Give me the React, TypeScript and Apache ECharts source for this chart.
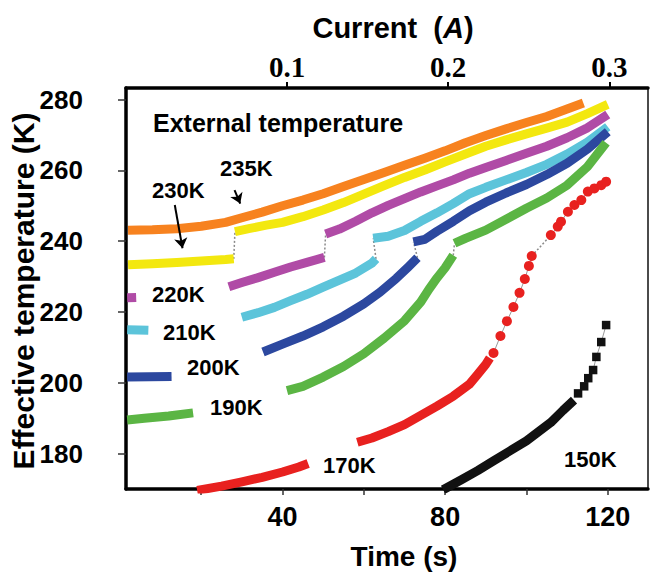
import React, { useEffect, useRef } from 'react';
import * as echarts from 'echarts';

// axis ticks / labels
const timeTicks = [20, 40, 60, 80, 100, 120];
const timeLabels = [40, 80, 120];
const tempTicks = [180, 200, 220, 240, 260, 280];
const currentTicks = [0.1, 0.2, 0.3];

// [time (s), effective temperature (K)] segments
const orange235 = [
  [[2, 243.1], [8, 243.2], [14, 243.5], [20, 244.2], [26, 245.3], [30, 246.6], [35, 248.2], [40, 250.0], [45, 251.6], [50, 253.4], [55, 255.4], [60, 257.4], [65, 259.4], [70, 261.4], [75, 263.4], [80, 265.5], [85, 267.8], [90, 269.8], [95, 271.7], [100, 273.5], [105, 275.2], [110, 277.3], [114, 279.0]],
];
const yellow230 = [
  [[2, 233.3], [8, 233.6], [14, 234.0], [20, 234.4], [26, 234.8], [28, 235.0]],
  [[28.3, 242.7], [32, 243.6], [36, 244.5], [40, 245.3], [45, 246.9], [50, 248.8], [55, 250.9], [60, 253.3], [65, 255.7], [70, 258.0], [75, 260.1], [80, 262.4], [85, 264.6], [90, 266.8], [95, 268.6], [100, 270.3], [105, 271.9], [110, 273.6], [115, 276.0], [120, 278.6]],
];
const magenta220 = [
  [[1.8, 224.0], [4.0, 224.1]],
  [[26.8, 227.1], [30, 228.3], [34, 229.7], [38, 231.2], [42, 232.7], [46, 234.0], [50.3, 235.4]],
  [[50.6, 242.0], [54, 243.4], [58, 245.6], [62, 248.0], [66, 250.1], [70, 252.0], [74, 253.9], [78, 255.6], [82, 257.3], [86, 259.2], [90, 260.8], [95, 262.8], [100, 264.8], [105, 266.8], [110, 269.2], [115, 272.0], [120, 275.8]],
];
const cyan210 = [
  [[1.8, 215.0], [7.0, 214.8]],
  [[30, 218.5], [34, 219.8], [38, 221.3], [42, 223.2], [46, 225.0], [50, 227.0], [54, 229.0], [58, 231.0], [62, 233.8], [63, 235.0]],
  [[62.3, 240.8], [66, 241.4], [70, 243.0], [74, 245.6], [78, 248.0], [82, 250.6], [86, 253.4], [90, 255.2], [95, 257.3], [100, 259.4], [105, 261.7], [110, 264.6], [115, 268.0], [120, 272.3]],
];
const blue200 = [
  [[1.8, 201.6], [12.7, 201.8]],
  [[35.2, 208.7], [40, 210.9], [45, 213.2], [50, 215.8], [55, 218.8], [60, 222.3], [64, 225.6], [68, 229.5], [71, 232.8], [73.2, 235.3]],
  [[72.2, 239.8], [75, 240.5], [78, 242.8], [82, 245.6], [86, 248.6], [90, 251.0], [95, 253.6], [100, 256.0], [105, 258.8], [110, 262.0], [115, 266.0], [120, 270.9]],
];
const green190 = [
  [[1.8, 189.5], [6, 190.0], [12, 190.6], [18, 191.5]],
  [[41.1, 197.8], [45, 199.0], [50, 201.6], [55, 204.6], [60, 208.2], [65, 212.6], [70, 217.5], [74, 222.8], [76, 226.4], [78, 229.6], [80, 232.5], [82, 236.0]],
  [[82.3, 239.4], [85, 240.8], [90, 243.1], [95, 246.2], [100, 249.3], [105, 252.2], [110, 255.8], [115, 261.0], [119.6, 267.8]],
];
const red170Band = [
  [[19, 169.6], [25, 170.8], [30, 172.0], [35, 173.3], [40, 174.8], [44, 176.2], [46.3, 177.2]],
  [[58.4, 183.2], [62, 184.4], [66, 186.2], [70, 188.2], [74, 190.8], [78, 193.4], [82, 196.2], [86, 199.6], [88, 202.4], [90, 205.2], [91, 207.0]],
];
const red170Dots = [
  [[91.9, 208.4], [93.6, 213.2], [95.2, 217.4], [96.8, 221.4], [98.3, 225.4], [99.6, 229.3], [100.6, 233.0], [101.3, 235.8]],
  [[106.0, 241.7], [107.7, 244.1], [108.5, 245.5], [110.2, 248.3], [111.8, 250.2], [113.5, 251.6], [115.1, 254.0], [116.7, 254.9], [118.4, 255.8], [119.6, 256.8]],
];
const black150Band = [
  [[79.5, 169.8], [84, 172.6], [88, 175.2], [92, 178.0], [96, 180.8], [100, 183.6], [103, 186.2], [106, 188.8], [109, 192.2], [111.7, 195.1]],
];
const black150Dots = [
  [[112.7, 197.0], [114.2, 199.0], [115.2, 201.3], [116.4, 203.6], [117.2, 207.3], [118.4, 211.5], [119.6, 216.3]],
];

// segment indexes joined to the next segment by a thin grey dashed link
const curves = [
  { name: '235K', color: '#F7821F', segs: orange235, links: [] as number[] },
  { name: '230K', color: '#F3E80F', segs: yellow230, links: [0] },
  { name: '220K', color: '#B04BA6', segs: magenta220, links: [1] },
  { name: '210K', color: '#5CC4DA', segs: cyan210, links: [1] },
  { name: '200K', color: '#2C489F', segs: blue200, links: [1] },
  { name: '190K', color: '#5BB544', segs: green190, links: [1] },
  { name: '170K', color: '#E8211F', segs: red170Band, links: [] as number[] },
  { name: '150K', color: '#111111', segs: black150Band, links: [] as number[] },
];

const labelTexts = [
  { text: '235K', x: 220, y: 168 },
  { text: '230K', x: 152, y: 190 },
  { text: '220K', x: 152, y: 294 },
  { text: '210K', x: 163, y: 332 },
  { text: '200K', x: 187, y: 367 },
  { text: '190K', x: 210, y: 407 },
  { text: '170K', x: 323, y: 465 },
  { text: '150K', x: 564, y: 459 },
];

const SANS = '"Liberation Sans", Arial, Helvetica, sans-serif';
const SERIF = '"Liberation Serif", "Times New Roman", serif';

export default function App() {
  const ref = useRef<HTMLDivElement>(null);
  useEffect(() => {
    if (!ref.current) return;
    const chart = echarts.init(ref.current, undefined, { renderer: 'svg' });
    const series: any[] = [];
    curves.forEach((c) => {
      c.segs.forEach((seg) => {
        series.push({
          type: 'line', name: c.name, data: seg, symbol: 'none', xAxisIndex: 0, yAxisIndex: 0,
          lineStyle: { color: c.color, width: 9, cap: 'butt', join: 'round' }, z: 3,
        });
      });
      c.links.forEach((i) => {
        const a = c.segs[i][c.segs[i].length - 1];
        const b = c.segs[i + 1][0];
        series.push({
          type: 'line', data: [a, b], symbol: 'none',
          lineStyle: { color: '#8a8a8a', width: 1.5, type: [2, 2] }, z: 2,
        });
      });
    });
    // red round markers joined by a thin grey line
    red170Dots.forEach((seg) => {
      series.push({
        type: 'line', data: seg, symbol: 'circle', symbolSize: 10, showSymbol: true,
        itemStyle: { color: '#E8211F' }, lineStyle: { color: '#999', width: 1 }, z: 4,
      });
    });
    series.push({
      type: 'line', data: [red170Dots[0][red170Dots[0].length - 1], red170Dots[1][0]], symbol: 'none',
      lineStyle: { color: '#8a8a8a', width: 1.5, type: [2, 2] }, z: 2,
    });
    black150Dots.forEach((seg) => {
      series.push({
        type: 'line', data: seg, symbol: 'rect', symbolSize: 8.5, showSymbol: true,
        itemStyle: { color: '#111' }, lineStyle: { color: '#999', width: 1 }, z: 4,
      });
    });
    // annotation arrows
    series.push({
      type: 'line', data: [], symbol: 'none',
      markLine: {
        silent: true, symbol: ['none', 'arrow'], symbolSize: 10, animation: false,
        label: { show: false },
        lineStyle: { color: '#000', width: 2, type: 'solid' },
        data: [
          [{ coord: [13.5, 250.2] }, { coord: [15.4, 238.0] }],
          [{ coord: [28.2, 254.4] }, { coord: [29.6, 250.6] }],
        ],
      },
    });

    chart.setOption({
      animation: false,
      grid: { left: 126, right: 3, top: 88, bottom: 84, show: true, borderColor: '#111', borderWidth: 1.5 },
      xAxis: [
        {
          type: 'value', position: 'bottom', min: 1.5, max: 129.9,
          axisLine: { show: true, lineStyle: { color: '#000', width: 3.5 } },
          axisTick: { show: true, customValues: timeTicks, length: 6, lineStyle: { color: '#333', width: 1.5 } },
          axisLabel: { customValues: timeLabels, margin: 14, color: '#000', fontSize: 27, fontWeight: 'bold', fontFamily: SANS },
          splitLine: { show: false },
        },
        {
          type: 'value', position: 'top', min: 0, max: 0.324,
          axisLine: { show: true, lineStyle: { color: '#000', width: 3.5 } },
          axisTick: { show: true, customValues: currentTicks, length: 6, lineStyle: { color: '#000', width: 2 } },
          axisLabel: { customValues: currentTicks, margin: 7, color: '#000', fontSize: 29, fontWeight: 'bold', fontFamily: SERIF, formatter: (v: number) => v.toFixed(1) },
          splitLine: { show: false },
        },
      ],
      yAxis: {
        type: 'value', min: 170, max: 283.25,
        axisLine: { show: true, lineStyle: { color: '#000', width: 3.5 } },
        axisTick: { show: true, customValues: tempTicks, length: 8, lineStyle: { color: '#333', width: 1.5 } },
        axisLabel: { customValues: tempTicks, margin: 43, color: '#000', fontSize: 26, fontWeight: 'bold', fontFamily: SANS },
        splitLine: { show: false },
      },
      graphic: [
        { type: 'text', x: 393, y: 28, style: { text: '{n|Current  (}{i|A}{n|)}', align: 'center', verticalAlign: 'middle', rich: { n: { fontSize: 29, fontWeight: 'bold', fontFamily: SANS, fill: '#000' }, i: { fontSize: 29, fontWeight: 'bold', fontStyle: 'italic', fontFamily: SANS, fill: '#000' } } } },
        { type: 'text', x: 404, y: 556, style: { text: 'Time (s)', align: 'center', verticalAlign: 'middle', fontSize: 28, fontWeight: 'bold', fontFamily: SANS, fill: '#000' } },
        { type: 'text', x: 23, y: 291, rotation: Math.PI / 2, style: { text: 'Effective temperature (K)', align: 'center', verticalAlign: 'middle', fontSize: 30, fontWeight: 'bold', fontFamily: SANS, fill: '#000' } },
        { type: 'text', x: 153, y: 123, style: { text: 'External temperature', align: 'left', verticalAlign: 'middle', fontSize: 25, fontWeight: 'bold', fontFamily: SANS, fill: '#000' } },
        ...labelTexts.map((l) => ({ type: 'text', x: l.x, y: l.y, z: 10, style: { text: l.text, align: 'left', verticalAlign: 'middle', fontSize: 22, fontWeight: 'bold', fontFamily: SANS, fill: '#000' } })),
      ],
      series,
    });
    return () => chart.dispose();
  }, []);
  return <div ref={ref} style={{ position: 'fixed', left: 0, top: 0, width: 651, height: 573, background: '#fff' }} />;
}
